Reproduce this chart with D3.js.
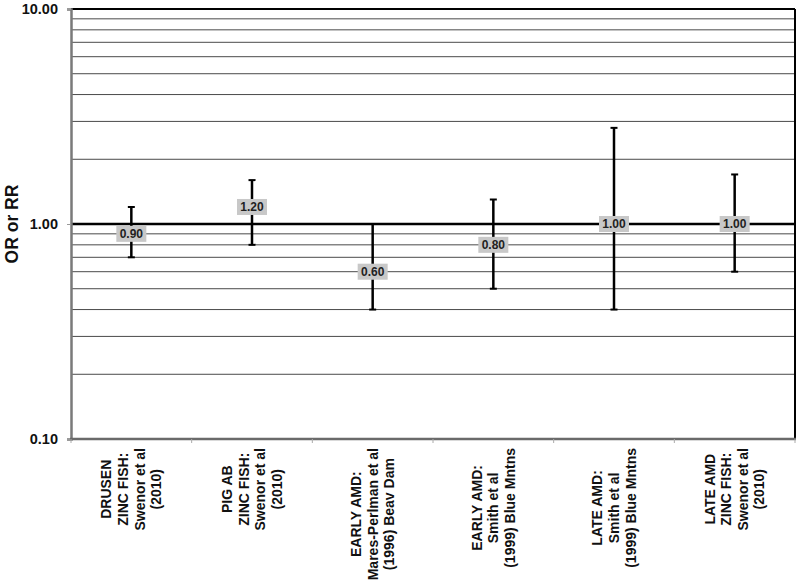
<!DOCTYPE html>
<html>
<head>
<meta charset="utf-8">
<script src="https://cdn.jsdelivr.net/npm/d3@7"></script>
<style>
  body { margin: 0; background: #fff; }
  text { font-family: "Liberation Sans", Arial, sans-serif; font-weight: bold; }
</style>
</head>
<body>
<script>
// studies (label lines) and estimates
const categories = [
  ["DRUSEN", "ZINC FISH:", "Swenor et al", "(2010)"],
  ["PIG AB", "ZINC FISH:", "Swenor et al", "(2010)"],
  ["EARLY AMD:", "Mares-Perlman et al", "(1996) Beav Dam"],
  ["EARLY AMD:", "Smith et al", "(1999) Blue Mntns"],
  ["LATE AMD:", "Smith et al", "(1999) Blue Mntns"],
  ["LATE AMD", "ZINC FISH:", "Swenor et al", "(2010)"]
];
const estimates = [0.90, 1.20, 0.60, 0.80, 1.00, 1.00];
const upper = [1.2, 1.6, 1.0, 1.3, 2.8, 1.7];
const lower = [0.7, 0.8, 0.4, 0.5, 0.4, 0.6];
const yTickLabels = [0.1, 1, 10];
const gridValues = [0.2,0.3,0.4,0.5,0.6,0.7,0.8,0.9,2,3,4,5,6,7,8,9];

const W = 800, H = 588;
const plotL = 71, plotR = 795, plotT = 9, plotB = 439;

const svg = d3.select("body").append("svg")
  .attr("width", W).attr("height", H);

const y = d3.scaleLog().domain([0.1, 10]).range([plotB, plotT]);
const x = d3.scaleBand().domain(d3.range(categories.length)).range([plotL, plotR]);

// gridlines
svg.append("g").selectAll("line").data(gridValues).join("line")
  .attr("x1", plotL).attr("x2", plotR)
  .attr("y1", d => y(d)).attr("y2", d => y(d))
  .attr("stroke", "#4a4a4a").attr("stroke-width", 1);

// top line at 10 and thick line at 1
svg.append("line").attr("x1", plotL).attr("x2", plotR)
  .attr("y1", y(10)).attr("y2", y(10))
  .attr("stroke", "#000").attr("stroke-width", 2);
svg.append("line").attr("x1", plotL).attr("x2", plotR)
  .attr("y1", y(1)).attr("y2", y(1))
  .attr("stroke", "#000").attr("stroke-width", 2.5);
// right border
svg.append("line").attr("x1", plotR).attr("x2", plotR)
  .attr("y1", plotT).attr("y2", plotB)
  .attr("stroke", "#000").attr("stroke-width", 2);

// y axis
const yAxis = d3.axisLeft(y).tickValues(yTickLabels)
  .tickFormat(d3.format(".2f")).tickSize(4).tickPadding(9);
const gy = svg.append("g").attr("transform", `translate(${plotL},0)`).call(yAxis);
gy.select(".domain").attr("stroke", "#7a7a7a").attr("stroke-width", 2.5);
gy.selectAll(".tick line").attr("stroke", "#999");
gy.selectAll(".tick text").attr("font-size", 14.5).attr("fill", "#111")
  .attr("font-family", "Liberation Sans, Arial, sans-serif").attr("font-weight", "bold");

// x axis line and tick marks at band edges
svg.append("line").attr("x1", plotL - 1).attr("x2", plotR + 1)
  .attr("y1", plotB).attr("y2", plotB)
  .attr("stroke", "#6a6a6a").attr("stroke-width", 2.5);
svg.append("g").selectAll("line").data(d3.range(categories.length + 1)).join("line")
  .attr("x1", i => plotL + i * x.bandwidth()).attr("x2", i => plotL + i * x.bandwidth())
  .attr("y1", plotB).attr("y2", plotB + 4)
  .attr("stroke", "#aaa").attr("stroke-width", 1);

// y title
svg.append("text")
  .attr("transform", `translate(18,${y(1)}) rotate(-90)`)
  .attr("text-anchor", "middle")
  .attr("font-size", 17.5).attr("fill", "#111")
  .text("OR or RR");

// category labels (rotated, centered lines, longest line starts near axis)
const lineGap = 16.6;
categories.forEach((lines, i) => {
  const cx = x(i) + x.bandwidth() / 2;
  const g = svg.append("g").attr("transform", `translate(${cx},448) rotate(-90)`);
  const texts = g.selectAll("text").data(lines).join("text")
    .attr("font-size", 14).attr("fill", "#111")
    .attr("text-anchor", "middle")
    .attr("y", (d, j) => (j - (lines.length - 1) / 2) * lineGap)
    .attr("dy", "0.35em")
    .text(d => d);
  let maxLen = 0;
  texts.each(function() { maxLen = Math.max(maxLen, this.getComputedTextLength()); });
  texts.attr("x", -maxLen / 2);
});

// error bars
const bars = svg.append("g");
estimates.forEach((v, i) => {
  const cx = x(i) + x.bandwidth() / 2;
  bars.append("line").attr("x1", cx).attr("x2", cx)
    .attr("y1", y(upper[i])).attr("y2", y(lower[i]))
    .attr("stroke", "#000").attr("stroke-width", 2.5);
  [upper[i], lower[i]].forEach(b => {
    bars.append("line").attr("x1", cx - 3.5).attr("x2", cx + 3.5)
      .attr("y1", y(b)).attr("y2", y(b))
      .attr("stroke", "#000").attr("stroke-width", 2);
  });
  // value label box
  bars.append("rect")
    .attr("x", cx - 15).attr("y", y(v) - 8)
    .attr("width", 30).attr("height", 16)
    .attr("fill", "#c8c8c8");
  bars.append("text")
    .attr("x", cx).attr("y", y(v))
    .attr("dy", "0.36em")
    .attr("text-anchor", "middle")
    .attr("font-size", 12).attr("fill", "#222")
    .text(d3.format(".2f")(v));
});
</script>
</body>
</html>
